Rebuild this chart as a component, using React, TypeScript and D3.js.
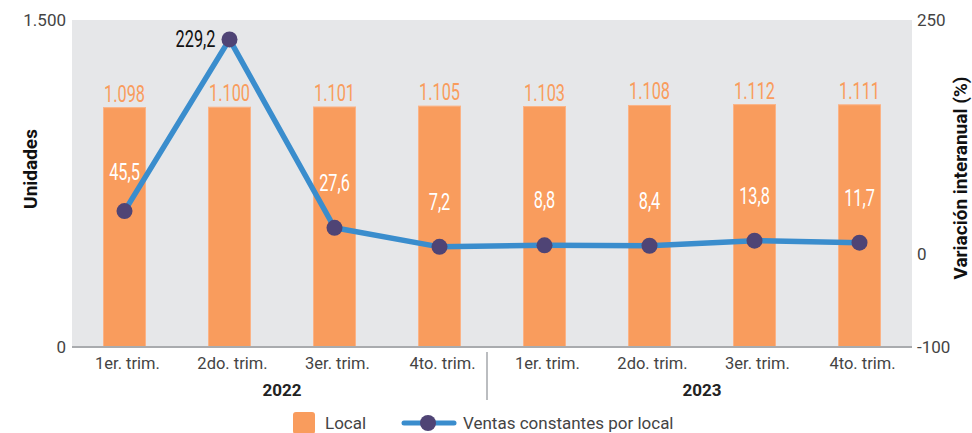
import React from "react";
import * as d3 from "d3";

const quarters = ["1er. trim.", "2do. trim.", "3er. trim.", "4to. trim.", "1er. trim.", "2do. trim.", "3er. trim.", "4to. trim."];
const years = ["2022", "2023"];
const locales = [1098, 1100, 1101, 1105, 1103, 1108, 1112, 1111];
const variacion = [45.5, 229.2, 27.6, 7.2, 8.8, 8.4, 13.8, 11.7];
const leftTicks = [0, 1500];
const rightTicks = [-100, 0, 250];

const W = 972, H = 433;
const M = { left: 72, right: 912, top: 20, bottom: 347 };
const ORANGE = "#f99c5d";
const BLUE = "#3a8dcd";
const PURPLE = "#4f4475";
const SANS = "Roboto, 'Liberation Sans', Arial, sans-serif";

const fmtInt = (v: number) => d3.format(",")(v).replace(/,/g, ".");
const fmtDec = (v: number) => d3.format(".1f")(v).replace(".", ",");

function CondText(props: { x: number; y: number; anchor?: string; fill: string; children: React.ReactNode }) {
  return (
    <text
      transform={`translate(${props.x},${props.y}) scale(0.68,1)`}
      textAnchor={props.anchor || "middle"}
      fill={props.fill}
      fontFamily={SANS}
      fontSize={24}
    >
      {props.children}
    </text>
  );
}

export default function App() {
  const idx = quarters.map((_, i) => String(i));
  const x = d3.scaleBand<string>().domain(idx).range([M.left, M.right]).paddingInner(0.6).paddingOuter(0.3);
  const yL = d3.scaleLinear().domain([0, 1500]).range([M.bottom, M.top]);
  const yR = d3.scaleLinear().domain([-100, 250]).range([M.bottom, M.top]);
  const cx = (i: number) => (x(String(i)) as number) + x.bandwidth() / 2;

  const line = d3.line<number>().x((_, i) => cx(i)).y((d) => yR(d));

  const yearCenter = (k: number) => (cx(k * 4) + cx(k * 4 + 3)) / 2;
  const sepX = (cx(3) + cx(4)) / 2 - 5;

  return (
    <svg width={W} height={H} style={{ position: "absolute", left: 0, top: 0, background: "#fff" }}>
      <rect x={M.left} y={M.top} width={M.right - M.left} height={M.bottom - M.top} fill="#e6e7e9" />
      {locales.map((v, i) => (
        <rect key={"b" + i} x={x(String(i))} y={yL(v)} width={x.bandwidth()} height={yL(0) - yL(v)} fill={ORANGE} stroke="#fbb386" strokeWidth={1} />
      ))}
      <line x1={M.left} x2={M.right} y1={M.bottom} y2={M.bottom} stroke="#a9abae" strokeWidth={2} />
      {locales.map((v, i) => (
        <CondText key={"bl" + i} x={cx(i)} y={yL(v) - 6} fill={ORANGE}>{fmtInt(v)}</CondText>
      ))}
      <path d={line(variacion) || ""} fill="none" stroke={BLUE} strokeWidth={5.5} strokeLinejoin="round" />
      {variacion.map((v, i) => (
        <circle key={"c" + i} cx={cx(i)} cy={yR(v)} r={8} fill={PURPLE} />
      ))}
      {variacion.map((v, i) =>
        i === 1 ? (
          <CondText key={"vl" + i} x={cx(i) - 14} y={yR(v) + 8} anchor="end" fill="#111">{fmtDec(v)}</CondText>
        ) : (
          <CondText key={"vl" + i} x={cx(i)} y={yR(v) - (i === 0 ? 31 : 37)} fill="#fff">{fmtDec(v)}</CondText>
        )
      )}
      {leftTicks.map((t) => (
        <text key={"lt" + t} x={66} y={yL(t)} dy="0.35em" textAnchor="end" fill="#444" fontFamily={SANS} fontSize={17}>{fmtInt(t)}</text>
      ))}
      {rightTicks.map((t) => (
        <text key={"rt" + t} x={917} y={yR(t)} dy="0.35em" textAnchor="start" fill="#444" fontFamily={SANS} fontSize={17}>{t}</text>
      ))}
      <text transform={`translate(37,169) rotate(-90)`} textAnchor="middle" fill="#111" fontFamily={SANS} fontWeight="bold" fontSize={19}>Unidades</text>
      <text transform={`translate(967,178) rotate(-90)`} textAnchor="middle" fill="#111" fontFamily={SANS} fontWeight="bold" fontSize={19}>Variación interanual (%)</text>
      {quarters.map((q, i) => (
        <text key={"q" + i} x={cx(i) + 3} y={363} dy="0.35em" textAnchor="middle" fill="#444" fontFamily={SANS} fontSize={16.5}>{q}</text>
      ))}
      {years.map((yv, k) => (
        <text key={"y" + yv} x={yearCenter(k)} y={390} dy="0.35em" textAnchor="middle" fill="#222" fontFamily={SANS} fontWeight="bold" fontSize={17}>{yv}</text>
      ))}
      <line x1={sepX} x2={sepX} y1={352} y2={400} stroke="#bbbdc0" strokeWidth={2} />
      <rect x={293} y={412} width={22} height={22} rx={3} fill={ORANGE} />
      <text x={325} y={423} dy="0.35em" fill="#444" fontFamily={SANS} fontSize={17}>Local</text>
      <line x1={404} x2={454} y1={423} y2={423} stroke={BLUE} strokeWidth={5} strokeLinecap="round" />
      <circle cx={428} cy={423} r={8} fill={PURPLE} />
      <text x={463} y={423} dy="0.35em" fill="#444" fontFamily={SANS} fontSize={17}>Ventas constantes por local</text>
    </svg>
  );
}
